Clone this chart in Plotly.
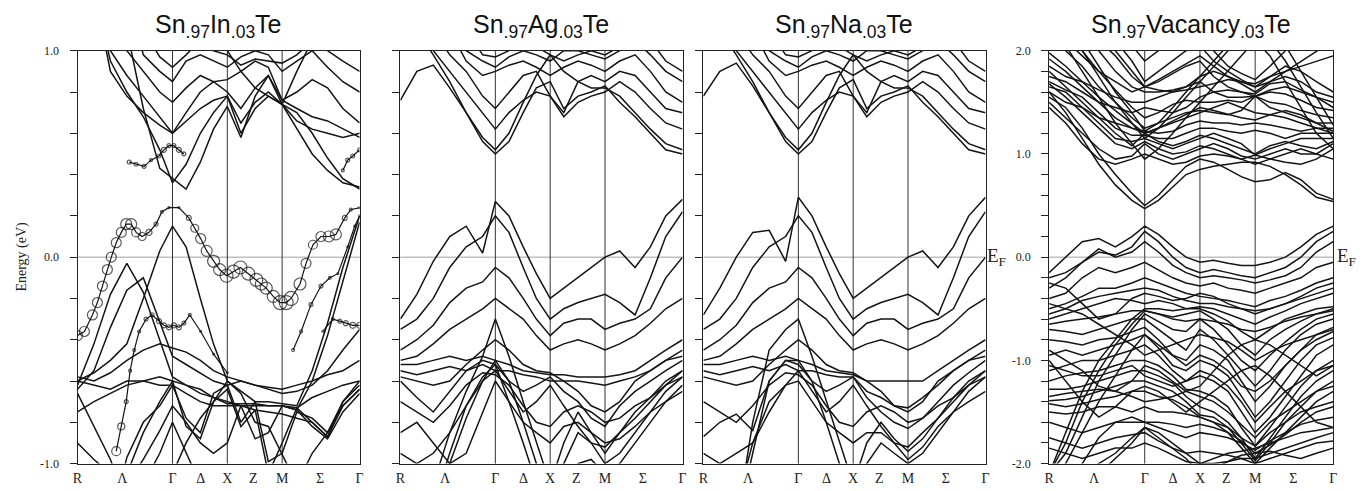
import plotly.graph_objects as go

# ---------------- data ----------------
K_PATH = [0.0, 0.15, 0.30, 0.45, 0.60, 0.75, 0.866, 0.99, 1.12, 1.24, 1.366,
          1.49, 1.62, 1.74, 1.866, 2.0, 2.14, 2.28, 2.42, 2.573]
K_LABELS = ['R', 'Λ', 'Γ', 'Δ', 'X', 'Z', 'M', 'Σ', 'Γ']
K_LABEL_POS = [0.0, 0.408, 0.866, 1.123, 1.366, 1.604, 1.866, 2.211, 2.573]
K_LINES = [0.866, 1.366, 1.866]

TITLES = ['Sn<sub>.97</sub>In<sub>.03</sub>Te', 'Sn<sub>.97</sub>Ag<sub>.03</sub>Te',
          'Sn<sub>.97</sub>Na<sub>.03</sub>Te', 'Sn<sub>.97</sub>Vacancy<sub>.03</sub>Te']

BANDS_IN = [
    [1.3, 1.3, 1.3, 1.1, 0.72, 0.43, 0.38, 0.33, 0.46, 0.62, 0.73, 0.58, 0.78, 0.88, 0.74, 0.62, 0.5, 0.42, 0.36, 0.34],
    [1.3, 1.3, 0.95, 0.8, 0.68, 0.52, 0.36, 0.45, 0.6, 0.7, 0.78, 0.6, 0.72, 0.78, 0.74, 0.7, 0.6, 0.48, 0.38, 0.33],
    [1.3, 1.3, 0.9, 0.78, 0.7, 0.64, 0.6, 0.66, 0.72, 0.76, 0.78, 0.65, 0.75, 0.8, 0.74, 0.66, 0.62, 0.6, 0.58, 0.6],
    [1.3, 1.3, 1.0, 0.88, 0.78, 0.68, 0.6, 0.7, 0.8, 0.85, 0.8, 0.72, 0.82, 0.88, 0.76, 0.72, 0.68, 0.66, 0.62, 0.58],
    [1.3, 1.3, 1.3, 1.0, 0.9, 0.8, 0.75, 0.82, 0.88, 0.85, 0.86, 0.9, 0.95, 0.92, 0.76, 0.8, 0.86, 0.82, 0.72, 0.65],
    [1.3, 1.3, 1.3, 1.3, 0.98, 0.9, 0.85, 0.95, 0.98, 0.95, 0.92, 0.97, 1.0, 0.98, 0.9, 0.95, 1.0, 0.92, 0.85, 0.8],
    [1.3, 1.3, 1.3, 1.3, 1.1, 0.97, 0.92, 0.98, 1.05, 1.0, 0.98, 0.93, 0.96, 0.95, 0.94, 0.98, 1.05, 1.0, 0.95, 0.9],
    [1.3, 1.3, 1.3, 1.3, 1.3, 1.3, 1.3, 1.3, 1.3, 1.2, 1.0, 0.9, 0.82, 0.78, 0.74, 0.9, 1.05, 1.2, 1.3, 1.3],
    [-0.6, -0.56, -0.5, -0.42, -0.2, 0.03, 0.15, 0.05, -0.2, -0.42, -0.6, -0.65, -0.7, -0.7, -0.71, -0.72, -0.55, -0.32, -0.05, 0.2],
    [-0.62, -0.42, -0.18, -0.03, -0.17, -0.4, -0.58, -0.62, -0.64, -0.68, -0.71, -0.71, -0.71, -0.72, -0.72, -0.74, -0.6, -0.38, -0.12, 0.17],
    [-0.64, -0.55, -0.34, -0.16, -0.1, -0.32, -0.48, -0.52, -0.56, -0.6, -0.62, -0.6, -0.62, -0.64, -0.66, -0.65, -0.62, -0.55, -0.45, -0.35],
    [-0.58, -0.6, -0.56, -0.5, -0.45, -0.42, -0.44, -0.46, -0.5, -0.55, -0.58, -0.6, -0.62, -0.63, -0.64, -0.62, -0.6, -0.57, -0.55, -0.5],
    [-0.66, -0.82, -0.98, -1.2, -1.3, -1.3, -1.3, -1.3, -1.3, -1.3, -1.3, -1.3, -1.3, -1.3, -1.3, -1.3, -1.3, -1.3, -1.3, -1.3],
    [-1.3, -1.3, -1.3, -0.97, -0.8, -0.72, -0.62, -0.78, -0.85, -0.66, -0.62, -0.8, -0.7, -0.99, -0.95, -0.75, -0.78, -0.85, -0.7, -0.62],
    [-1.3, -1.3, -1.3, -1.05, -0.85, -0.7, -0.6, -0.82, -0.88, -0.7, -0.64, -0.82, -0.74, -1.05, -0.9, -0.73, -0.8, -0.87, -0.72, -0.64],
    [-0.6, -0.62, -0.64, -0.6, -0.6, -0.62, -0.62, -0.66, -0.7, -0.72, -0.72, -0.72, -0.72, -0.72, -0.72, -0.73, -0.68, -0.65, -0.62, -0.6],
    [-0.9, -0.98, -1.05, -1.1, -0.98, -0.84, -0.72, -0.8, -0.9, -0.95, -0.9, -0.72, -0.88, -0.85, -0.72, -0.74, -0.82, -0.88, -0.75, -0.66],
    [-1.3, -1.3, -1.3, -1.3, -1.1, -0.95, -0.8, -0.95, -1.1, -1.3, -1.3, -1.3, -1.3, -1.3, -1.3, -1.1, -0.95, -0.85, -0.72, -0.64],
    [-0.75, -0.7, -0.66, -0.62, -0.6, -0.58, -0.6, -0.62, -0.66, -0.68, -0.7, -0.72, -0.74, -0.75, -0.76, -0.78, -0.8, -0.87, -0.7, -0.6],
    [-1.3, -1.3, -1.3, -1.3, -1.3, -1.2, -1.05, -0.9, -0.78, -0.7, -0.6, -0.66, -0.8, -0.82, -0.95, -1.1, -1.3, -1.3, -1.3, -1.3],
]

# In-weighted bands (open circles): k / energy / circle size
IN_K1 = [0.0, 0.063, 0.136, 0.181, 0.227, 0.272, 0.308, 0.353, 0.399, 0.444, 0.489, 0.535, 0.589,
         0.652, 0.716, 0.770, 0.834, 0.924, 1.015, 1.069, 1.123, 1.178, 1.241, 1.296, 1.359, 1.422,
         1.486, 1.558, 1.631, 1.676, 1.721, 1.785, 1.848, 1.903, 1.948, 2.029, 2.084, 2.147, 2.220,
         2.292, 2.356, 2.437, 2.492, 2.573]
IN_E1 = [-0.38, -0.36, -0.28, -0.22, -0.14, -0.06, 0.0, 0.07, 0.12, 0.16, 0.16, 0.12, 0.1,
         0.12, 0.16, 0.22, 0.24, 0.24, 0.19, 0.14, 0.09, 0.03, -0.02, -0.06, -0.09, -0.07,
         -0.05, -0.08, -0.11, -0.13, -0.15, -0.19, -0.22, -0.22, -0.2, -0.13, -0.03, 0.06, 0.1,
         0.1, 0.11, 0.19, 0.23, 0.24]
IN_S1 = [10, 10, 10, 10, 10, 10, 10, 10, 10, 11, 11, 9, 8,
         6, 4, 3, 2, 2, 5, 8, 10, 11, 12, 12, 13, 13,
         13, 13, 13, 12, 12, 12, 14, 14, 14, 12, 10, 9, 10,
         11, 11, 5, 3, 2]

IN_K2 = [0.353, 0.399, 0.444, 0.480, 0.517, 0.562, 0.625, 0.680, 0.743, 0.788, 0.834, 0.879,
         0.924, 0.970, 1.024, 1.123, 1.241, 1.366]
IN_E2 = [-0.94, -0.82, -0.7, -0.55, -0.45, -0.36, -0.3, -0.28, -0.31, -0.33, -0.34, -0.33,
         -0.34, -0.32, -0.28, -0.36, -0.47, -0.56]
IN_S2 = [9, 7, 4, 3, 3, 3, 4, 4, 5, 5, 5, 5, 5, 4, 3, 2, 2, 2]

IN_K3 = [1.966, 2.039, 2.129, 2.220, 2.301, 2.374, 2.464, 2.528, 2.573]
IN_E3 = [-0.45, -0.36, -0.23, -0.14, -0.1, -0.08, 0.05, 0.15, 0.2]
IN_S3 = [3, 3, 4, 4, 3, 2, 2, 2, 2]

IN_K4 = [0.471, 0.534, 0.607, 0.670, 0.743, 0.788, 0.834, 0.879, 0.924, 0.970]
IN_E4 = [0.46, 0.45, 0.44, 0.47, 0.49, 0.52, 0.54, 0.54, 0.52, 0.5]
IN_S4 = [4, 4, 4, 3, 4, 5, 4, 4, 5, 4]

IN_K5 = [2.238, 2.328, 2.392, 2.446, 2.510, 2.573]
IN_E5 = [-0.36, -0.3, -0.31, -0.32, -0.33, -0.33]
IN_S5 = [2, 3, 4, 5, 6, 6]

IN_K6 = [2.419, 2.464, 2.510, 2.573]
IN_E6 = [0.42, 0.47, 0.49, 0.52]
IN_S6 = [3, 4, 4, 4]

BANDS_AG = [
    [0.76, 0.9, 0.93, 0.82, 0.7, 0.56, 0.5, 0.56, 0.7, 0.82, 0.85, 0.72, 0.78, 0.8, 0.83, 0.75, 0.68, 0.6, 0.52, 0.5],
    [1.2, 1.1, 0.98, 0.85, 0.7, 0.58, 0.52, 0.6, 0.75, 0.88, 0.98, 0.9, 0.85, 0.82, 0.82, 0.78, 0.7, 0.62, 0.55, 0.52],
    [1.3, 1.2, 1.0, 0.9, 0.8, 0.7, 0.62, 0.7, 0.76, 0.8, 0.78, 0.68, 0.75, 0.78, 0.8, 0.85, 0.8, 0.72, 0.65, 0.62],
    [1.3, 1.3, 1.1, 0.98, 0.9, 0.78, 0.72, 0.8, 0.88, 0.9, 0.78, 0.7, 0.85, 0.88, 0.85, 0.9, 0.88, 0.8, 0.72, 0.7],
    [1.3, 1.3, 1.3, 1.1, 0.95, 0.88, 0.9, 0.93, 0.95, 0.92, 0.88, 0.92, 0.95, 0.93, 0.9, 0.95, 0.98, 0.9, 0.8, 0.75],
    [1.3, 1.3, 1.3, 1.2, 1.0, 0.95, 0.92, 0.97, 1.0, 0.98, 0.95, 1.0, 1.0, 0.98, 0.96, 1.0, 1.05, 0.98, 0.9, 0.85],
    [1.3, 1.3, 1.3, 1.3, 1.1, 0.98, 0.97, 1.0, 1.05, 1.02, 0.98, 0.95, 0.98, 1.0, 0.98, 1.02, 1.1, 1.05, 0.95, 0.9],
    [-0.3, -0.18, -0.02, 0.1, 0.15, 0.02, 0.27, 0.2, 0.05, -0.08, -0.2, -0.15, -0.1, -0.05, 0.0, 0.03, -0.05, 0.05, 0.2, 0.28],
    [-0.35, -0.3, -0.2, -0.05, 0.05, 0.1, 0.2, 0.12, -0.05, -0.2, -0.3, -0.25, -0.22, -0.2, -0.18, -0.22, -0.28, -0.1, 0.1, 0.22],
    [-0.45, -0.4, -0.33, -0.22, -0.15, -0.12, -0.05, -0.1, -0.2, -0.3, -0.38, -0.32, -0.3, -0.3, -0.35, -0.32, -0.3, -0.25, -0.1, 0.0],
    [-0.5, -0.48, -0.42, -0.35, -0.3, -0.25, -0.2, -0.25, -0.3, -0.38, -0.45, -0.42, -0.4, -0.42, -0.45, -0.42, -0.38, -0.32, -0.25, -0.2],
    [-0.52, -0.52, -0.5, -0.48, -0.5, -0.48, -0.5, -0.52, -0.55, -0.56, -0.57, -0.57, -0.58, -0.58, -0.58, -0.57, -0.55, -0.5, -0.45, -0.4],
    [-0.55, -0.57, -0.55, -0.53, -0.55, -0.52, -0.55, -0.55, -0.57, -0.58, -0.6, -0.6, -0.6, -0.61, -0.62, -0.6, -0.58, -0.55, -0.5, -0.45],
    [-0.6, -0.68, -0.75, -0.65, -0.55, -0.5, -0.52, -0.6, -0.65, -0.62, -0.58, -0.65, -0.7, -0.78, -0.82, -0.72, -0.65, -0.6, -0.55, -0.5],
    [-1.3, -1.3, -1.1, -0.85, -0.65, -0.48, -0.3, -0.48, -0.7, -0.9, -1.1, -0.9, -0.75, -0.85, -0.95, -0.85, -0.75, -0.68, -0.6, -0.55],
    [-1.3, -1.3, -1.3, -1.0, -0.78, -0.6, -0.5, -0.6, -0.8, -1.0, -1.2, -1.0, -0.85, -0.9, -1.0, -0.95, -0.85, -0.75, -0.65, -0.58],
    [-0.85, -0.8, -0.9, -1.0, -0.95, -0.75, -0.6, -0.7, -0.8, -0.85, -0.9, -0.82, -0.8, -0.85, -0.9, -0.88, -0.82, -0.75, -0.7, -0.65],
    [-0.7, -0.75, -0.8, -0.72, -0.62, -0.56, -0.57, -0.62, -0.72, -0.8, -0.82, -0.75, -0.72, -0.75, -0.8, -0.78, -0.72, -0.68, -0.62, -0.58],
    [-0.58, -0.6, -0.62, -0.6, -0.52, -0.45, -0.4, -0.45, -0.52, -0.55, -0.56, -0.6, -0.65, -0.72, -0.75, -0.7, -0.6, -0.55, -0.5, -0.48],
    [-0.95, -1.0, -0.95, -0.85, -0.72, -0.6, -0.55, -0.65, -0.75, -0.7, -0.62, -0.72, -0.82, -0.9, -0.92, -0.85, -0.78, -0.7, -0.62, -0.55],
    [-1.3, -1.3, -1.2, -0.95, -0.72, -0.58, -0.52, -0.7, -0.9, -1.1, -1.3, -1.2, -1.0, -0.98, -1.05, -1.0, -0.9, -0.8, -0.7, -0.62],
]

BANDS_NA = [
    [0.78, 0.9, 0.94, 0.83, 0.7, 0.56, 0.5, 0.56, 0.7, 0.82, 0.86, 0.72, 0.78, 0.8, 0.83, 0.75, 0.68, 0.6, 0.52, 0.5],
    [1.2, 1.1, 0.98, 0.85, 0.7, 0.58, 0.52, 0.6, 0.75, 0.88, 0.98, 0.9, 0.85, 0.82, 0.82, 0.78, 0.7, 0.62, 0.55, 0.52],
    [1.3, 1.2, 1.0, 0.9, 0.8, 0.7, 0.62, 0.7, 0.76, 0.8, 0.78, 0.68, 0.75, 0.78, 0.8, 0.85, 0.8, 0.72, 0.65, 0.62],
    [1.3, 1.3, 1.1, 0.98, 0.9, 0.78, 0.72, 0.8, 0.88, 0.9, 0.78, 0.7, 0.85, 0.88, 0.85, 0.9, 0.88, 0.8, 0.72, 0.7],
    [1.3, 1.3, 1.3, 1.1, 0.95, 0.88, 0.9, 0.93, 0.95, 0.92, 0.88, 0.92, 0.95, 0.93, 0.9, 0.95, 0.98, 0.9, 0.8, 0.75],
    [1.3, 1.3, 1.3, 1.2, 1.0, 0.95, 0.92, 0.97, 1.0, 0.98, 0.95, 1.0, 1.0, 0.98, 0.96, 1.0, 1.05, 0.98, 0.9, 0.85],
    [1.3, 1.3, 1.3, 1.3, 1.1, 0.98, 0.97, 1.0, 1.05, 1.02, 0.98, 0.95, 0.98, 1.0, 0.98, 1.02, 1.1, 1.05, 0.95, 0.9],
    [-0.28, -0.15, 0.0, 0.12, 0.13, -0.02, 0.29, 0.2, 0.05, -0.08, -0.2, -0.15, -0.1, -0.05, 0.0, 0.03, -0.05, 0.05, 0.2, 0.29],
    [-0.35, -0.3, -0.2, -0.05, 0.05, 0.1, 0.2, 0.12, -0.05, -0.2, -0.3, -0.25, -0.22, -0.2, -0.18, -0.22, -0.28, -0.1, 0.1, 0.22],
    [-0.45, -0.4, -0.33, -0.22, -0.15, -0.12, -0.05, -0.1, -0.2, -0.3, -0.38, -0.32, -0.3, -0.3, -0.35, -0.32, -0.3, -0.25, -0.1, 0.0],
    [-0.5, -0.48, -0.42, -0.35, -0.3, -0.25, -0.2, -0.25, -0.3, -0.38, -0.45, -0.42, -0.4, -0.42, -0.45, -0.42, -0.38, -0.32, -0.25, -0.2],
    [-0.52, -0.52, -0.5, -0.48, -0.5, -0.48, -0.5, -0.52, -0.55, -0.56, -0.57, -0.6, -0.6, -0.6, -0.6, -0.6, -0.55, -0.5, -0.45, -0.4],
    [-0.55, -0.57, -0.55, -0.53, -0.55, -0.52, -0.55, -0.55, -0.57, -0.58, -0.58, -0.65, -0.68, -0.72, -0.73, -0.68, -0.62, -0.55, -0.5, -0.45],
    [-0.87, -0.8, -0.76, -0.84, -0.6, -0.5, -0.52, -0.6, -0.65, -0.62, -0.58, -0.68, -0.75, -0.8, -0.83, -0.78, -0.7, -0.62, -0.56, -0.5],
    [-1.3, -1.3, -1.3, -0.8, -0.45, -0.35, -0.3, -0.48, -0.7, -0.9, -1.1, -0.9, -0.8, -0.88, -0.94, -0.88, -0.78, -0.68, -0.6, -0.55],
    [-1.3, -1.3, -1.3, -0.95, -0.6, -0.5, -0.5, -0.6, -0.8, -1.0, -1.2, -1.0, -0.9, -0.95, -1.0, -0.95, -0.85, -0.75, -0.65, -0.58],
    [-1.3, -1.3, -1.2, -0.9, -0.7, -0.62, -0.6, -0.7, -0.8, -0.85, -0.9, -0.85, -0.85, -0.9, -0.98, -0.92, -0.82, -0.75, -0.7, -0.65],
    [-0.7, -0.75, -0.8, -0.72, -0.62, -0.56, -0.57, -0.62, -0.72, -0.8, -0.82, -0.75, -0.72, -0.75, -0.8, -0.78, -0.72, -0.68, -0.62, -0.58],
    [-0.58, -0.6, -0.62, -0.6, -0.52, -0.45, -0.4, -0.45, -0.52, -0.55, -0.56, -0.6, -0.65, -0.72, -0.75, -0.7, -0.6, -0.55, -0.5, -0.48],
    [-0.95, -1.0, -0.95, -0.9, -0.75, -0.62, -0.55, -0.65, -0.75, -0.7, -0.62, -0.72, -0.82, -0.9, -0.92, -0.85, -0.78, -0.7, -0.62, -0.55],
]

BANDS_VAC = [
    [1.6, 1.4, 1.15, 0.9, 0.7, 0.55, 0.47, 0.55, 0.68, 0.8, 0.85, 0.88, 0.9, 0.92, 0.92, 0.88, 0.8, 0.7, 0.58, 0.54],
    [1.55, 1.45, 1.25, 1.0, 0.8, 0.62, 0.5, 0.6, 0.75, 0.88, 0.95, 0.92, 0.85, 0.78, 0.73, 0.75, 0.82, 0.75, 0.62, 0.56],
    [1.5, 1.35, 1.2, 1.05, 0.95, 0.98, 1.1, 1.0, 0.95, 1.0, 1.05, 1.1, 1.05, 0.98, 0.95, 1.0, 1.05, 1.0, 1.0, 1.1],
    [1.65, 1.6, 1.45, 1.3, 1.15, 1.12, 1.15, 1.1, 1.05, 1.1, 1.15, 1.2, 1.15, 1.1, 0.99, 1.05, 1.1, 1.15, 1.15, 1.15],
    [1.7, 1.62, 1.55, 1.4, 1.25, 1.18, 1.18, 1.15, 1.15, 1.2, 1.25, 1.25, 1.22, 1.2, 1.23, 1.2, 1.15, 1.2, 1.2, 1.2],
    [1.92, 1.8, 1.65, 1.5, 1.35, 1.25, 1.22, 1.2, 1.22, 1.28, 1.32, 1.3, 1.3, 1.28, 1.3, 1.28, 1.25, 1.22, 1.25, 1.25],
    [2.2, 2.0, 1.85, 1.65, 1.5, 1.35, 1.25, 1.3, 1.35, 1.4, 1.42, 1.4, 1.38, 1.42, 1.56, 1.45, 1.4, 1.35, 1.3, 1.3],
    [2.2, 2.2, 2.0, 1.8, 1.62, 1.45, 1.35, 1.4, 1.48, 1.52, 1.5, 1.5, 1.52, 1.5, 1.56, 1.5, 1.48, 1.42, 1.38, 1.35],
    [2.2, 2.2, 2.2, 2.0, 1.8, 1.65, 1.6, 1.6, 1.62, 1.65, 1.7, 1.6, 1.55, 1.55, 1.56, 1.6, 1.58, 1.52, 1.45, 1.42],
    [2.2, 2.2, 2.2, 2.1, 1.95, 1.75, 1.65, 1.7, 1.78, 1.85, 1.9, 1.75, 1.65, 1.6, 1.58, 1.68, 1.7, 1.62, 1.55, 1.5],
    [2.2, 2.2, 2.2, 2.2, 2.1, 1.9, 1.7, 1.8, 1.9, 2.0, 2.05, 1.9, 1.8, 1.72, 1.65, 1.75, 1.85, 1.8, 1.7, 1.6],
    [1.6, 1.5, 1.45, 1.35, 1.3, 1.25, 1.2, 1.25, 1.3, 1.35, 1.4, 1.45, 1.5, 1.45, 1.4, 1.38, 1.35, 1.3, 1.25, 1.2],
    [2.2, 2.05, 1.8, 1.55, 1.3, 1.1, 0.95, 1.05, 1.2, 1.35, 1.5, 1.65, 1.8, 1.95, 2.1, 1.95, 1.7, 1.45, 1.2, 1.05],
    [2.2, 2.2, 2.0, 1.75, 1.5, 1.3, 1.15, 1.25, 1.4, 1.55, 1.7, 1.85, 2.0, 2.1, 2.2, 2.1, 1.9, 1.65, 1.4, 1.15],
    [1.45, 1.3, 1.1, 0.95, 0.9, 0.95, 1.0, 0.95, 0.9, 0.92, 0.98, 1.0, 0.98, 0.95, 0.9, 0.95, 1.0, 1.05, 1.0, 0.95],
    [1.75, 1.7, 1.6, 1.5, 1.45, 1.4, 1.45, 1.42, 1.4, 1.45, 1.55, 1.6, 1.62, 1.6, 1.56, 1.62, 1.65, 1.6, 1.55, 1.45],
    [2.2, 2.2, 2.2, 2.2, 2.2, 2.05, 1.9, 2.0, 2.1, 2.2, 2.2, 2.0, 1.85, 1.78, 1.72, 1.85, 2.0, 2.1, 2.2, 2.2],
    [1.85, 1.75, 1.7, 1.62, 1.55, 1.5, 1.5, 1.55, 1.6, 1.65, 1.75, 1.8, 1.75, 1.7, 1.68, 1.75, 1.8, 1.85, 1.9, 1.95],
    [2.2, 2.2, 2.1, 1.85, 1.6, 1.4, 1.22, 1.3, 1.45, 1.6, 1.75, 1.9, 2.05, 2.2, 2.2, 2.2, 2.05, 1.8, 1.55, 1.28],
    [1.98, 1.85, 1.7, 1.55, 1.42, 1.3, 1.2, 1.25, 1.32, 1.38, 1.45, 1.42, 1.38, 1.35, 1.33, 1.38, 1.42, 1.38, 1.3, 1.22],
    [1.8, 1.65, 1.5, 1.35, 1.2, 1.08, 1.2, 1.12, 1.08, 1.12, 1.18, 1.15, 1.1, 1.05, 1.0, 1.08, 1.12, 1.08, 1.05, 1.12],
    [2.2, 2.2, 2.2, 2.2, 2.0, 1.8, 1.65, 1.72, 1.8, 1.88, 1.95, 1.85, 1.75, 1.68, 1.6, 1.7, 1.8, 1.9, 2.0, 2.1],
    [1.68, 1.55, 1.4, 1.25, 1.1, 1.05, 1.12, 1.05, 1.0, 1.02, 1.08, 1.05, 1.0, 0.95, 0.99, 0.95, 0.92, 0.9, 0.95, 1.05],
    [2.2, 2.1, 1.95, 1.8, 1.7, 1.6, 1.65, 1.62, 1.6, 1.62, 1.65, 1.68, 1.72, 1.7, 1.65, 1.7, 1.75, 1.7, 1.6, 1.55],
    [-0.15, 0.0, 0.15, 0.18, 0.1, 0.2, 0.3, 0.22, 0.1, 0.0, -0.05, -0.03, -0.06, -0.08, -0.08, -0.05, 0.0, 0.1, 0.22, 0.3],
    [-0.3, -0.2, -0.05, 0.05, 0.02, 0.1, 0.25, 0.15, 0.0, -0.1, -0.15, -0.12, -0.15, -0.18, -0.2, -0.15, -0.1, 0.0, 0.15, 0.25],
    [-0.2, -0.15, -0.05, 0.08, 0.0, 0.05, 0.15, 0.05, -0.08, -0.15, -0.2, -0.18, -0.2, -0.22, -0.25, -0.22, -0.18, -0.1, 0.05, 0.15],
    [-0.4, -0.35, -0.2, -0.1, -0.15, -0.1, -0.05, -0.12, -0.2, -0.25, -0.28, -0.25, -0.3, -0.32, -0.35, -0.3, -0.25, -0.2, -0.1, -0.05],
    [-0.5, -0.45, -0.38, -0.3, -0.3, -0.25, -0.2, -0.25, -0.3, -0.35, -0.38, -0.4, -0.42, -0.45, -0.48, -0.42, -0.38, -0.32, -0.25, -0.2],
    [-0.55, -0.5, -0.42, -0.38, -0.35, -0.32, -0.3, -0.32, -0.38, -0.42, -0.45, -0.45, -0.48, -0.5, -0.52, -0.5, -0.45, -0.4, -0.35, -0.3],
    [-0.6, -0.55, -0.5, -0.45, -0.4, -0.42, -0.45, -0.42, -0.45, -0.5, -0.48, -0.5, -0.55, -0.6, -0.65, -0.58, -0.52, -0.45, -0.4, -0.35],
    [-0.65, -0.62, -0.6, -0.58, -0.55, -0.52, -0.52, -0.55, -0.6, -0.62, -0.6, -0.62, -0.65, -0.7, -0.72, -0.68, -0.62, -0.58, -0.55, -0.5],
    [-0.45, -0.5, -0.55, -0.65, -0.75, -0.85, -0.95, -0.9, -0.85, -0.8, -0.75, -0.78, -0.82, -0.9, -1.0, -0.92, -0.85, -0.8, -0.75, -0.7],
    [-2.1, -1.7, -1.3, -1.0, -0.8, -0.6, -0.5, -0.5, -0.52, -0.5, -0.5, -0.55, -0.62, -0.72, -0.8, -0.7, -0.6, -0.55, -0.5, -0.48],
    [-2.1, -1.8, -1.4, -1.1, -0.85, -0.65, -0.52, -0.55, -0.58, -0.55, -0.52, -0.6, -0.7, -0.85, -0.95, -0.8, -0.7, -0.62, -0.55, -0.52],
    [-2.1, -1.9, -1.55, -1.2, -0.95, -0.7, -0.55, -0.62, -0.7, -0.72, -0.6, -0.7, -0.85, -1.0, -1.1, -0.95, -0.82, -0.7, -0.6, -0.55],
    [-2.2, -2.0, -1.7, -1.4, -1.15, -0.9, -0.75, -0.85, -0.95, -1.05, -0.95, -1.0, -1.1, -1.25, -1.3, -1.2, -1.05, -0.9, -0.8, -0.72],
    [-0.7, -0.72, -0.75, -0.7, -0.65, -0.6, -0.6, -0.7, -0.8, -0.9, -0.7, -0.8, -0.95, -1.1, -1.25, -1.1, -0.9, -0.75, -0.65, -0.6],
    [-0.8, -0.82, -0.85, -0.8, -0.78, -0.72, -0.68, -0.8, -0.95, -1.0, -0.85, -0.9, -1.0, -1.2, -1.4, -1.25, -1.05, -0.9, -0.75, -0.68],
    [-0.95, -0.9, -0.95, -0.9, -0.85, -0.8, -0.75, -0.88, -1.05, -1.1, -1.0, -1.05, -1.15, -1.35, -1.55, -1.4, -1.2, -1.0, -0.85, -0.78],
    [-1.05, -1.1, -1.15, -1.15, -1.1, -1.05, -1.15, -1.2, -1.25, -1.2, -1.1, -1.15, -1.25, -1.4, -1.6, -1.45, -1.3, -1.2, -1.1, -1.05],
    [-1.1, -1.05, -1.0, -1.0, -0.95, -0.9, -0.85, -0.95, -1.1, -1.2, -1.15, -1.2, -1.3, -1.5, -1.7, -1.55, -1.35, -1.15, -0.95, -0.85],
    [-1.2, -1.15, -1.12, -1.1, -1.05, -1.0, -1.0, -1.05, -1.15, -1.28, -1.3, -1.35, -1.45, -1.65, -1.83, -1.65, -1.45, -1.25, -1.1, -1.0],
    [-1.28, -1.28, -1.25, -1.2, -1.15, -1.1, -1.1, -1.15, -1.22, -1.35, -1.45, -1.5, -1.6, -1.75, -1.95, -1.75, -1.55, -1.35, -1.2, -1.1],
    [-1.35, -1.32, -1.3, -1.28, -1.3, -1.35, -1.4, -1.38, -1.35, -1.3, -1.35, -1.4, -1.5, -1.62, -1.75, -1.6, -1.5, -1.4, -1.3, -1.25],
    [-1.39, -1.38, -1.35, -1.3, -1.25, -1.2, -1.2, -1.25, -1.3, -1.4, -1.53, -1.55, -1.65, -1.8, -1.97, -1.8, -1.6, -1.45, -1.3, -1.2],
    [-1.42, -1.45, -1.42, -1.38, -1.35, -1.3, -1.3, -1.35, -1.38, -1.45, -1.55, -1.6, -1.7, -1.85, -2.0, -1.85, -1.7, -1.55, -1.4, -1.3],
    [-1.5, -1.52, -1.5, -1.45, -1.45, -1.5, -1.45, -1.5, -1.5, -1.52, -1.55, -1.6, -1.65, -1.75, -1.83, -1.7, -1.6, -1.5, -1.45, -1.4],
    [-2.2, -2.2, -2.0, -1.75, -1.6, -1.55, -1.6, -1.6, -1.62, -1.65, -1.62, -1.65, -1.7, -1.78, -1.9, -1.82, -1.72, -1.6, -1.5, -1.45],
    [-2.2, -2.2, -2.1, -2.0, -1.9, -1.75, -1.65, -1.7, -1.8, -1.9, -2.0, -1.95, -1.9, -1.88, -1.85, -1.8, -1.75, -1.7, -1.68, -1.65],
    [-2.2, -2.2, -2.2, -2.1, -1.95, -1.8, -1.65, -1.75, -1.85, -1.95, -2.1, -2.05, -1.98, -1.95, -1.95, -1.9, -1.85, -1.8, -1.75, -1.7],
    [-1.6, -1.65, -1.7, -1.65, -1.6, -1.6, -1.6, -1.65, -1.7, -1.75, -1.7, -1.72, -1.75, -1.8, -1.87, -1.78, -1.7, -1.62, -1.58, -1.55],
    [-1.75, -1.8, -1.85, -1.8, -1.75, -1.72, -1.7, -1.78, -1.85, -1.9, -1.88, -1.9, -1.92, -1.95, -2.0, -1.95, -1.9, -1.85, -1.8, -1.78],
    [-1.85, -1.9, -1.95, -1.9, -1.85, -1.85, -1.8, -1.85, -1.92, -1.98, -2.0, -2.0, -1.98, -1.92, -1.9, -1.88, -1.92, -1.95, -1.9, -1.85],
    [-0.9, -1.0, -1.1, -1.25, -1.3, -1.2, -1.05, -1.1, -1.2, -1.3, -1.25, -1.1, -0.95, -0.85, -0.8, -0.85, -0.95, -1.05, -1.15, -1.05],
    [-0.25, -0.3, -0.45, -0.6, -0.55, -0.4, -0.35, -0.38, -0.42, -0.4, -0.35, -0.38, -0.45, -0.5, -0.55, -0.5, -0.45, -0.38, -0.3, -0.25],
    [-1.0, -1.2, -1.4, -1.55, -1.45, -1.3, -1.25, -1.3, -1.4, -1.5, -1.4, -1.3, -1.2, -1.1, -1.05, -1.15, -1.3, -1.45, -1.6, -1.65],
]

# ---------------- figure ----------------
W, H = 1371, 491
X_DOM = [(73, 357), (398, 682), (703, 987), (1051, 1337)]
Y_TOP, Y_BOT = 45, 470
Y_RANGES = [(-1.0, 1.0), (-1.0, 1.0), (-1.0, 1.0), (-2.0, 2.0)]
LINE_COL = '#141414'
SERIF = 'Liberation Serif, Times New Roman, serif'
SANS = 'Liberation Sans, Arial, sans-serif'

fig = go.Figure()
layout = dict(width=W, height=H, margin=dict(l=0, r=0, t=0, b=0),
              paper_bgcolor='white', plot_bgcolor='white', showlegend=False)
shapes = []
annotations = []

all_bands = [BANDS_IN, BANDS_AG, BANDS_NA, BANDS_VAC]
for i in range(4):
    sfx = '' if i == 0 else str(i + 1)
    xa, ya = 'x' + sfx, 'y' + sfx
    x0, x1 = X_DOM[i]
    lo, hi = Y_RANGES[i]
    shapes.append(dict(type='line', xref=xa + ' domain', yref=ya, x0=0, x1=1, y0=0, y1=0,
                       line=dict(color='#a0a0a0', width=1), layer='below'))
    for kv in K_LINES:
        shapes.append(dict(type='line', xref=xa, yref=ya + ' domain', x0=kv, x1=kv, y0=0, y1=1,
                           line=dict(color='#333333', width=1), layer='below'))
    for b in all_bands[i]:
        fig.add_trace(go.Scatter(x=K_PATH, y=b, mode='lines', xaxis=xa, yaxis=ya,
                                 line=dict(color=LINE_COL, width=1.5), hoverinfo='skip'))
    n = int(round((hi - lo) / 0.2))
    tv = [round(lo + 0.2 * j, 2) for j in range(n + 1)]
    if i in (0, 3):
        tt = [('%.1f' % v) if abs(v - round(v)) < 1e-6 else '' for v in tv]
    else:
        tt = ['' for v in tv]
    layout['xaxis' + sfx] = dict(domain=[x0 / W, x1 / W], range=[0, K_PATH[-1]], anchor=ya,
                                 showgrid=False, zeroline=False, showline=True, mirror=True,
                                 linecolor='#222', linewidth=1, ticks='',
                                 tickvals=K_LABEL_POS, ticktext=K_LABELS, ticklabelstandoff=2,
                                 tickfont=dict(family=SERIF, size=14, color='#222'))
    layout['yaxis' + sfx] = dict(domain=[1 - Y_BOT / H, 1 - Y_TOP / H], range=[lo, hi], anchor=xa,
                                 showgrid=False, zeroline=False, showline=True, mirror=True,
                                 linecolor='#222', linewidth=1, ticks='outside', ticklen=7,
                                 tickcolor='#222', tickvals=tv, ticktext=tt, ticklabelstandoff=8,
                                 tickfont=dict(family=SERIF, size=12, color='#222'))
    annotations.append(dict(xref='paper', yref='paper', x=(x0 + x1) / 2 / W, y=1 - 20 / H,
                            text=TITLES[i], showarrow=False, xanchor='center', yanchor='middle',
                            font=dict(family=SANS, size=25, color='#111')))

for kk, ee, ss in [(IN_K1, IN_E1, IN_S1), (IN_K2, IN_E2, IN_S2), (IN_K3, IN_E3, IN_S3),
                   (IN_K4, IN_E4, IN_S4), (IN_K5, IN_E5, IN_S5), (IN_K6, IN_E6, IN_S6)]:
    fig.add_trace(go.Scatter(x=kk, y=ee, mode='lines+markers', xaxis='x', yaxis='y',
                             line=dict(color=LINE_COL, width=1.2),
                             marker=dict(symbol='circle-open', size=ss, color=LINE_COL,
                                         line=dict(width=1.2, color=LINE_COL)),
                             hoverinfo='skip'))

annotations.append(dict(xref='paper', yref='paper', x=17 / W, y=1 - 257 / H, text='Energy (eV)',
                        textangle=-90, showarrow=False, xanchor='center', yanchor='middle',
                        font=dict(family=SERIF, size=14, color='#222')))
for xe, yr in [(998, 'y3'), (1350, 'y4')]:
    annotations.append(dict(xref='paper', yref=yr, x=xe / W, y=0, text='E<sub>F</sub>',
                            showarrow=False, xanchor='center', yanchor='middle',
                            font=dict(family=SERIF, size=19, color='#222')))

layout['shapes'] = shapes
layout['annotations'] = annotations
fig.update_layout(**layout)
fig.write_html('out.html')
